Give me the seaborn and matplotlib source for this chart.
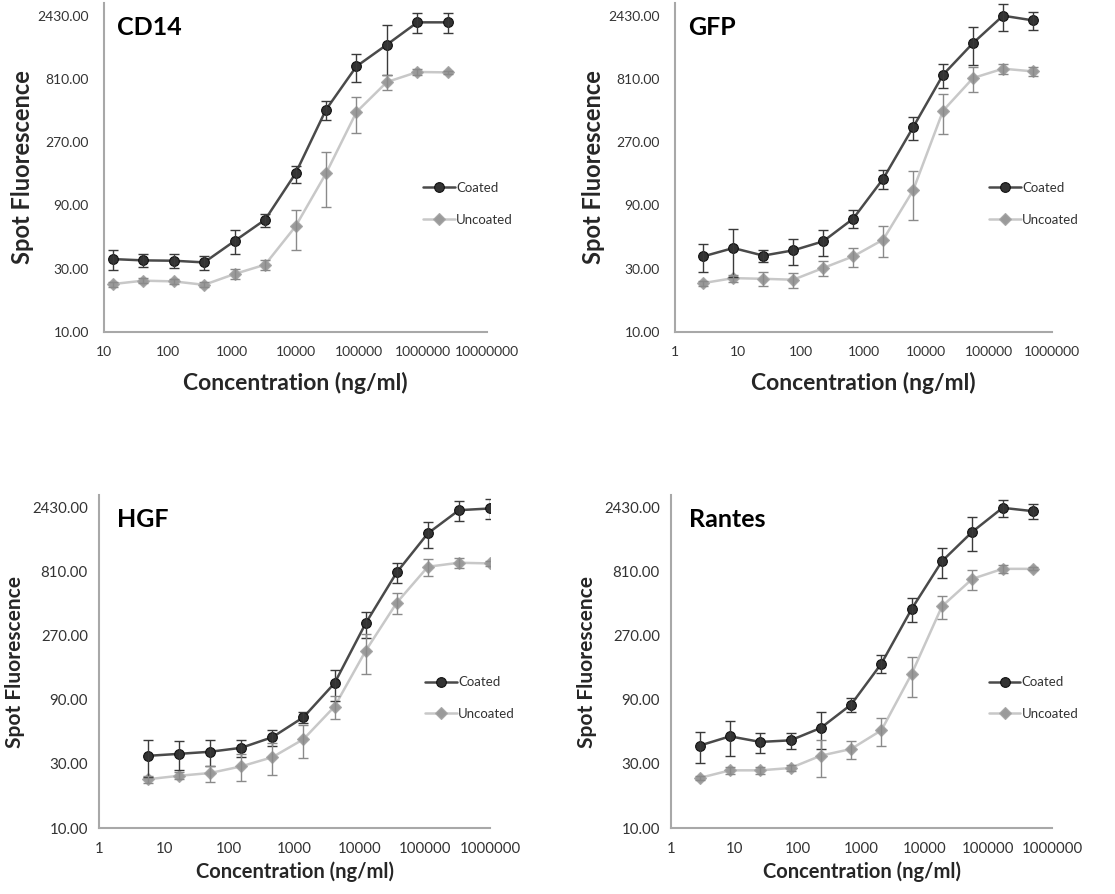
import matplotlib
matplotlib.use("Agg")
import matplotlib.pyplot as plt
import matplotlib.ticker as mticker
import seaborn as sns

sns.set_theme(style="white")
plt.rcParams['font.family'] = ['Lato', 'DejaVu Sans']

# =========================================================
# Data - concentrations in ng/ml
# =========================================================
conc_cd14 = [13.7, 41.2, 123.5, 370.4, 1111, 3333, 10000, 30000, 90000, 270000, 810000, 2430000]
conc_gfp = [2.82, 8.47, 25.4, 76.2, 228.6, 686, 2058, 6173, 18519, 55556, 166667, 500000]
conc_hgf = [5.65, 16.9, 50.8, 152.4, 457.2, 1372, 4115, 12346, 37037, 111111, 333333, 1000000]
conc_rantes = [2.82, 8.47, 25.4, 76.2, 228.6, 686, 2058, 6173, 18519, 55556, 166667, 500000]

cd14_coated = [35.5, 34.7, 34.5, 33.5, 48.6, 70.3, 157, 475, 1008, 1470, 2165, 2165]
cd14_coated_err = [6, 4, 4, 4, 10, 8, 23, 80, 245, 600, 370, 360]
cd14_uncoated = [23.0, 24.4, 24.1, 22.7, 27.4, 32.2, 62.6, 157, 456, 768, 914, 908]
cd14_uncoated_err = [1, 1, 1, 1, 2.5, 3, 21, 70, 140, 100, 50, 30]

gfp_coated = [37.2, 43.0, 37.7, 41.3, 48.3, 71.6, 143, 350, 872, 1511, 2430, 2240]
gfp_coated_err = [9, 17, 4, 9, 11, 11, 23, 70, 185, 480, 570, 360]
gfp_uncoated = [23.4, 25.5, 25.2, 24.8, 30.4, 37.2, 49.7, 117, 467, 823, 968, 924]
gfp_uncoated_err = [1, 1.5, 3, 3.3, 4, 6, 13, 47, 155, 180, 80, 70]

hgf_coated = [34.5, 35.7, 37.0, 39.6, 47.5, 66.9, 120, 335, 803, 1567, 2334, 2403]
hgf_coated_err = [10.5, 8.6, 8, 6, 6.4, 6, 31, 74, 135, 340, 380, 400]
hgf_uncoated = [23.1, 24.5, 25.7, 28.8, 33.7, 45.9, 80.4, 209, 477, 884, 947, 936]
hgf_uncoated_err = [1.5, 1.5, 3.5, 6.5, 9, 12.5, 16, 68, 87, 130, 85, 40]

rantes_coated = [41.1, 48.2, 43.8, 45.0, 55.7, 83.1, 168, 429, 973, 1610, 2430, 2295]
rantes_coated_err = [10.6, 14, 7.5, 6.3, 17, 9.7, 26, 88, 245, 450, 350, 300]
rantes_uncoated = [23.6, 26.9, 26.9, 28.0, 34.6, 38.8, 53.5, 141, 449, 718, 853, 853]
rantes_uncoated_err = [1, 1.5, 1.5, 1.5, 10.8, 6, 13, 47, 88, 120, 60, 20]

y_ticks = [10, 30, 90, 270, 810, 2430]
x_ticks_cd14 = [10, 100, 1000, 10000, 100000, 1000000, 10000000]
x_ticks_std = [1, 10, 100, 1000, 10000, 100000, 1000000]

panels = [
    # name, conc, coated, coated_err, uncoated, uncoated_err, xticks, rect, big
    ('CD14', conc_cd14, cd14_coated, cd14_coated_err, cd14_uncoated, cd14_uncoated_err,
     x_ticks_cd14, [0.0933, 0.6286, 0.3435, 0.368], True),
    ('GFP', conc_gfp, gfp_coated, gfp_coated_err, gfp_uncoated, gfp_uncoated_err,
     x_ticks_std, [0.6054, 0.6286, 0.338, 0.368], True),
    ('HGF', conc_hgf, hgf_coated, hgf_coated_err, hgf_uncoated, hgf_uncoated_err,
     x_ticks_std, [0.0888, 0.0738, 0.3507, 0.3725], False),
    ('Rantes', conc_rantes, rantes_coated, rantes_coated_err, rantes_uncoated, rantes_uncoated_err,
     x_ticks_std, [0.6018, 0.0738, 0.3417, 0.3725], False),
]

COATED_LINE = '#4a4a4a'
COATED_MARK = '#333333'
UNCOATED_LINE = '#c8c8c8'
UNCOATED_MARK = '#9a9a9a'
SPINE = '#a8a8a8'

fig = plt.figure(figsize=(11.15, 8.94), dpi=100)

for name, conc, coated, c_err, uncoated, u_err, xticks, rect, big in panels:
    ax = fig.add_axes(rect)
    tick_fs = 10 if big else 10.8
    xlabel_fs = 16.5 if big else 14.5
    ylabel_fs = 17 if big else 15

    # Coated series
    sns.lineplot(x=conc, y=coated, ax=ax, color=COATED_LINE, linewidth=1.8,
                 marker='o', markersize=7, markerfacecolor=COATED_MARK,
                 markeredgecolor='#111111', markeredgewidth=0.8,
                 label='Coated', errorbar=None, legend=False, zorder=3)
    ax.errorbar(conc, coated, yerr=c_err, fmt='none', ecolor='#3a3a3a',
                elinewidth=1.0, capsize=3.5, capthick=1.0, zorder=4)

    # Uncoated series
    sns.lineplot(x=conc, y=uncoated, ax=ax, color=UNCOATED_LINE, linewidth=1.8,
                 marker='D', markersize=6, markerfacecolor=UNCOATED_MARK,
                 markeredgecolor='#a8a8a8', markeredgewidth=0.8,
                 label='Uncoated', errorbar=None, legend=False, zorder=3)
    ax.errorbar(conc, uncoated, yerr=u_err, fmt='none', ecolor='#8a8a8a',
                elinewidth=1.0, capsize=3.5, capthick=1.0, zorder=4)

    ax.set_xscale('log')
    ax.set_yscale('log', base=3)
    ax.set_xlim(xticks[0], xticks[-1])
    ax.set_ylim(10, 10 * 3 ** 5.2)

    ax.yaxis.set_major_locator(mticker.FixedLocator(y_ticks))
    ax.yaxis.set_minor_locator(mticker.NullLocator())
    ax.yaxis.set_major_formatter(mticker.FuncFormatter(lambda v, p: f'{v:.2f}'))
    ax.xaxis.set_major_locator(mticker.FixedLocator(xticks))
    ax.xaxis.set_minor_locator(mticker.NullLocator())
    ax.xaxis.set_major_formatter(mticker.FuncFormatter(lambda v, p: f'{v:.0f}'))

    for side in ['top', 'right']:
        ax.spines[side].set_visible(False)
    for side in ['left', 'bottom']:
        ax.spines[side].set_color(SPINE)
        ax.spines[side].set_linewidth(1.5)

    ax.tick_params(axis='both', direction='inout', length=6, width=1, color=SPINE,
                   labelsize=tick_fs, labelcolor='#333333')
    ax.tick_params(axis='y', pad=8 if big else 5)
    ax.tick_params(axis='x', pad=7 if big else 7)

    ax.set_xlabel('Concentration (ng/ml)', fontsize=xlabel_fs, fontweight='bold',
                  labelpad=10 if big else 4)
    ax.set_ylabel('Spot Fluorescence', fontsize=ylabel_fs, fontweight='bold',
                  labelpad=2 if big else 5)

    ax.text(0.035 if big else 0.046, 0.925, name, transform=ax.transAxes,
            fontsize=18, fontweight='bold', va='center', ha='left', color='black')

    leg = ax.legend(loc='center left', bbox_to_anchor=(0.82, 0.39), frameon=False,
                    fontsize=9.5, handlelength=2.4, handletextpad=0.1, labelspacing=1.5,
                    borderaxespad=0)
    for t in leg.get_texts():
        t.set_color('#333333')

fig.savefig('out.png', dpi=100)
